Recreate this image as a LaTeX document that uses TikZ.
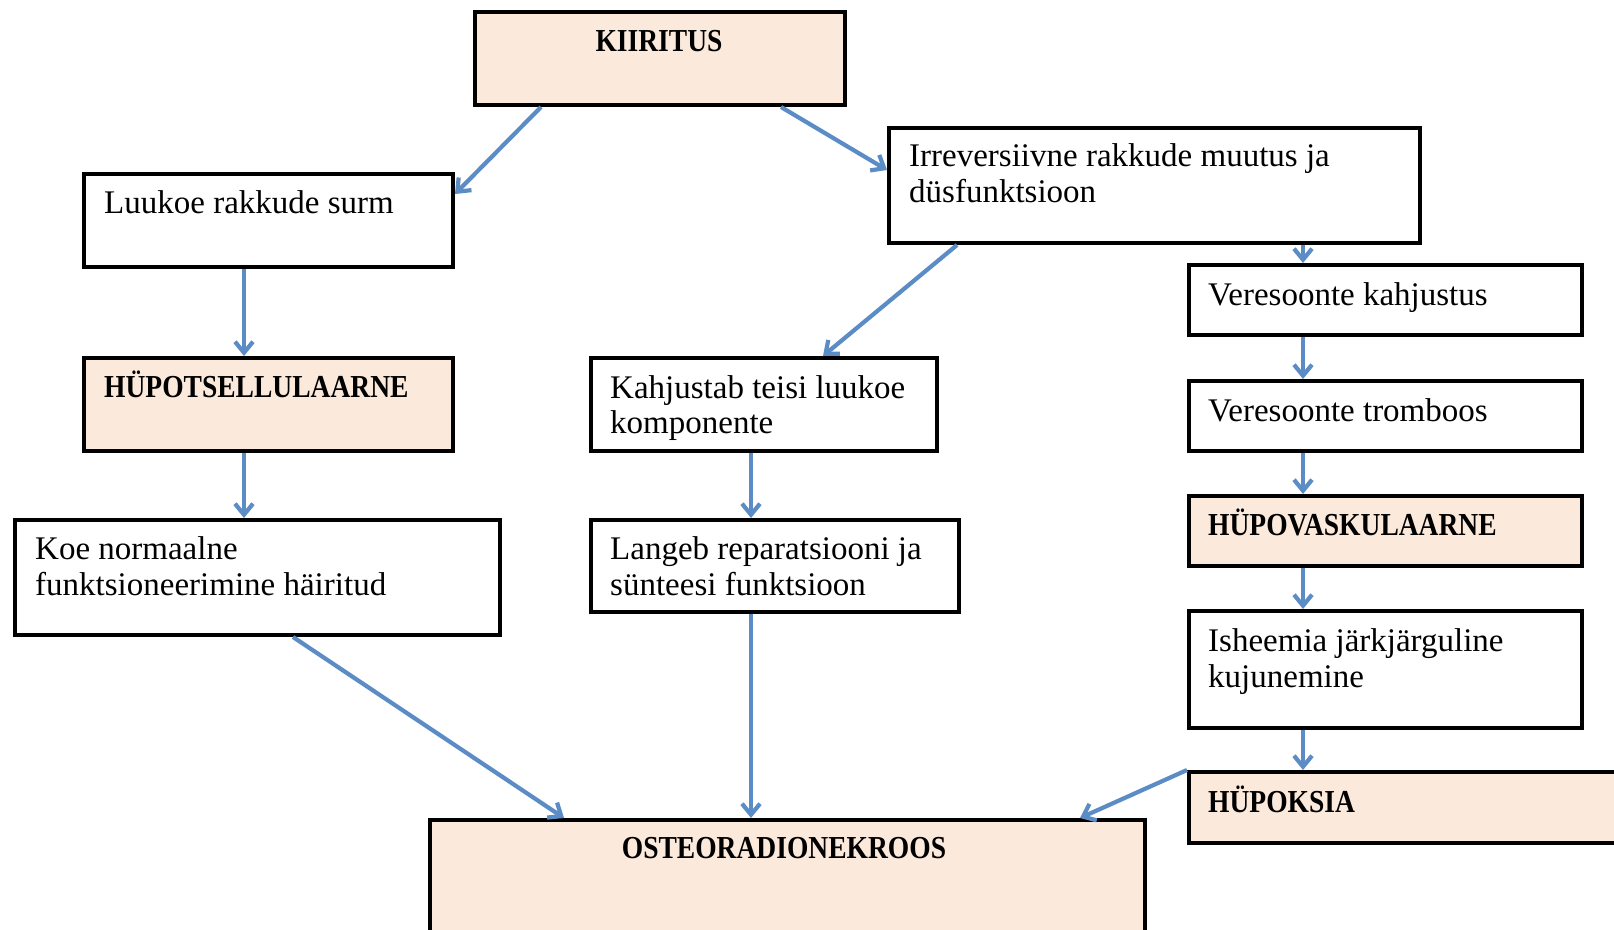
\documentclass[tikz,border=0pt]{standalone}
\usepackage{fontspec}
\setmainfont{Liberation Serif}[BoldFeatures={FakeStretch=0.86}]
\usetikzlibrary{arrows.meta,calc}
\definecolor{peach}{HTML}{FBE9DC}
\definecolor{arrblue}{HTML}{5B8CC6}
\begin{document}
\begin{tikzpicture}[x=1pt,y=-1pt,
  box/.style={draw=black,line width=4pt,fill=white,anchor=north west,inner sep=0pt},
  pbox/.style={box,fill=peach},
  txt/.style={anchor=base west,inner sep=0pt,font=\fontsize{33}{36}\selectfont},
  btxt/.style={anchor=base west,inner sep=0pt,font=\fontsize{32}{36}\selectfont\bfseries},
  conn/.style={draw=arrblue,line width=4.2pt,-{Straight Barb[length=11pt,width=18pt]}}]
\useasboundingbox (0,0) rectangle (1614,929);
\clip (0,0) rectangle (1614,929);
\fill[white] (0,0) rectangle (1614,929);

% boxes
\node[pbox,minimum width=370pt,minimum height=93pt] (kiir) at (473,10) {};
\node[box,minimum width=369pt,minimum height=93pt] (luuk) at (82,172) {};
\node[box,minimum width=531pt,minimum height=115pt] (irr) at (887,126) {};
\node[box,minimum width=393pt,minimum height=70pt] (vk) at (1187,263) {};
\node[box,minimum width=393pt,minimum height=70pt] (vt) at (1187,379) {};
\node[pbox,minimum width=393pt,minimum height=70pt] (hv) at (1187,494) {};
\node[box,minimum width=393pt,minimum height=117pt] (ish) at (1187,609) {};
\node[pbox,minimum width=460pt,minimum height=71pt] (hyp) at (1187,770) {};
\node[pbox,minimum width=715pt,minimum height=140pt] (ost) at (428,818) {};
\node[pbox,minimum width=369pt,minimum height=93pt] (hts) at (82,356) {};
\node[box,minimum width=485pt,minimum height=115pt] (koe) at (13,518) {};
\node[box,minimum width=346pt,minimum height=93pt] (kahj) at (589,356) {};
\node[box,minimum width=368pt,minimum height=92pt] (lang) at (589,518) {};

% texts
\node[btxt,anchor=base] (t-kiir) at (659,51) {KIIRITUS};
\node[txt] (t-luuk) at (104,213) {Luukoe rakkude surm};
\node[txt] (t-irr1) at (909,166) {Irreversiivne rakkude muutus ja};
\node[txt] (t-irr2) at (909,202) {düsfunktsioon};
\node[txt] (t-vk) at (1208,305) {Veresoonte kahjustus};
\node[txt] (t-vt) at (1208,421) {Veresoonte tromboos};
\node[btxt] (t-hv) at (1208,535) {HÜPOVASKULAARNE};
\node[txt] (t-ish1) at (1208,651) {Isheemia järkjärguline};
\node[txt] (t-ish2) at (1208,687) {kujunemine};
\node[btxt] (t-hyp) at (1208,812) {HÜPOKSIA};
\node[btxt,anchor=base] (t-ost) at (784,858) {OSTEORADIONEKROOS};
\node[btxt] (t-hts) at (104,397) {HÜPOTSELLULAARNE};
\node[txt] (t-koe1) at (35,559) {Koe normaalne};
\node[txt] (t-koe2) at (35,595) {funktsioneerimine häiritud};
\node[txt] (t-kahj1) at (610,398) {Kahjustab teisi luukoe};
\node[txt] (t-kahj2) at (610,433) {komponente};
\node[txt] (t-lang1) at (610,559) {Langeb reparatsiooni ja};
\node[txt] (t-lang2) at (610,595) {sünteesi funktsioon};

% connectors
\draw[conn] ([xshift=68pt]kiir.south west) -- ([yshift=-22pt]luuk.north east);
\draw[conn] ([xshift=-66pt]kiir.south east) -- ([yshift=-44pt]irr.north west);
\draw[conn] ([xshift=162pt]luuk.south west) -- ([xshift=162pt]hts.north west);
\draw[conn] ([xshift=162pt]hts.south west) -- ([xshift=231pt]koe.north west);
\draw[conn] ([xshift=70pt]irr.south west) -- ([xshift=234pt]kahj.north west);
\draw[conn] ([xshift=416pt]irr.south west) -- ([xshift=116pt]vk.north west);
\draw[conn] ([xshift=116pt]vk.south west) -- ([xshift=116pt]vt.north west);
\draw[conn] ([xshift=116pt]vt.south west) -- ([xshift=116pt]hv.north west);
\draw[conn] ([xshift=116pt]hv.south west) -- ([xshift=116pt]ish.north west);
\draw[conn] ([xshift=116pt]ish.south west) -- ([xshift=116pt]hyp.north west);
\draw[conn] ([xshift=162pt]kahj.south west) -- ([xshift=162pt]lang.north west);
\draw[conn] ([xshift=162pt]lang.south west) -- ([xshift=323pt]ost.north west);
\draw[conn] ([xshift=280pt]koe.south west) -- ([xshift=136pt]ost.north west);
\draw[conn] (hyp.north west) -- ([xshift=-67pt]ost.north east);
\end{tikzpicture}
\end{document}
